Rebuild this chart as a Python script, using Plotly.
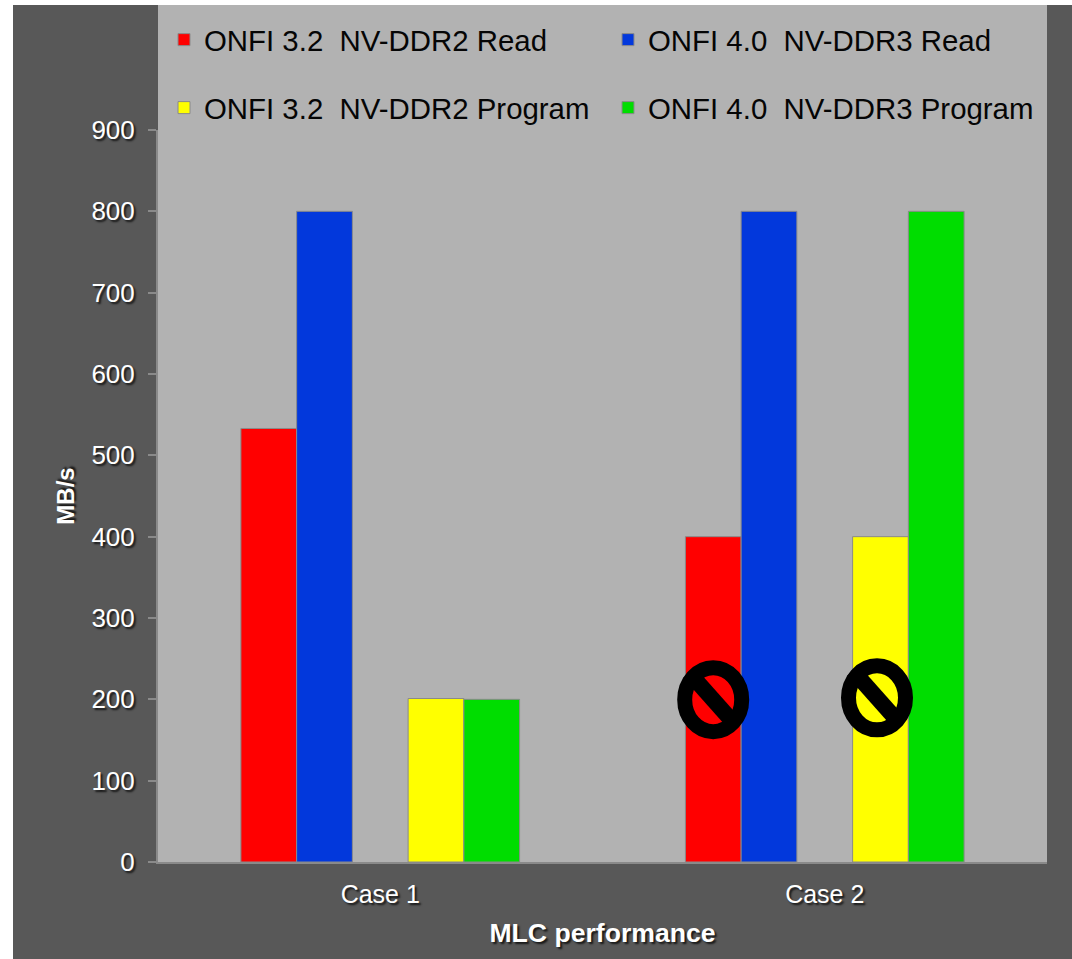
import plotly.graph_objects as go

categories = ["Case 1", "Case 2"]
read_32 = [533, 400]
read_40 = [800, 800]
prog_32 = [201, 400]
prog_40 = [200, 800]
y_ticks = [0, 100, 200, 300, 400, 500, 600, 700, 800, 900]

W, H = 1072, 959
L, R, T, B = 158, 25, 130, 97
PW, PH = W - L - R, H - T - B
px = lambda v: (v - L) / PW
py = lambda v: (H - B - v) / PH

FONT = "Liberation Sans, Arial, sans-serif"
SHADOW = "2px 2px 2px rgba(0,0,0,0.75)"
EDGE = dict(color="#8a8a8a", width=1)

fig = go.Figure()
fig.add_bar(name="ONFI 3.2\u00a0\u00a0NV-DDR2 Read", x=categories, y=read_32,
            marker=dict(color="#ff0000", line=EDGE), legend="legend")
fig.add_bar(name="ONFI 4.0\u00a0\u00a0NV-DDR3 Read", x=categories, y=read_40,
            marker=dict(color="#0238dc", line=EDGE), legend="legend2")
fig.add_bar(name="spacer", x=categories, y=[None, None], showlegend=False, hoverinfo="skip")
fig.add_bar(name="ONFI 3.2\u00a0\u00a0NV-DDR2 Program", x=categories, y=prog_32,
            marker=dict(color="#ffff00", line=EDGE), legend="legend3")
fig.add_bar(name="ONFI 4.0\u00a0\u00a0NV-DDR3 Program", x=categories, y=prog_40,
            marker=dict(color="#00dd00", line=EDGE), legend="legend4")

shapes = [
    dict(type="rect", xref="paper", yref="paper", x0=px(13), x1=px(W), y0=py(H), y1=py(5),
         fillcolor="#585858", line_width=0, layer="below"),
    dict(type="rect", xref="paper", yref="paper", x0=0, x1=1, y0=0, y1=py(5),
         fillcolor="#b2b2b2", line_width=0, layer="below"),
]
for cx, cy in [(713.2, 699.7), (877, 697.8)]:
    shapes.append(dict(type="circle", xref="paper", yref="paper",
                       x0=px(cx - 28.5), x1=px(cx + 28.5), y0=py(cy + 32), y1=py(cy - 32),
                       line=dict(color="black", width=15), fillcolor="rgba(0,0,0,0)"))
    shapes.append(dict(type="line", xref="paper", yref="paper",
                       x0=px(cx - 24), x1=px(cx + 24), y0=py(cy - 27), y1=py(cy + 27),
                       line=dict(color="black", width=16)))

legend_common = dict(bgcolor="rgba(0,0,0,0)", xanchor="left", yanchor="middle",
                     font=dict(family=FONT, size=29.4, color="#050505"))

fig.update_layout(
    width=W, height=H,
    margin=dict(l=L, r=R, t=T, b=B, pad=0, autoexpand=False),
    paper_bgcolor="white", plot_bgcolor="#b2b2b2",
    barmode="group", bargap=0.373, bargroupgap=0,
    font=dict(family=FONT),
    shapes=shapes,
    legend=dict(x=px(164), y=py(40), **legend_common),
    legend2=dict(x=px(608), y=py(40), **legend_common),
    legend3=dict(x=px(164), y=py(108), **legend_common),
    legend4=dict(x=px(608), y=py(108), **legend_common),
    xaxis=dict(showline=True, linecolor="#8a8a8a", linewidth=2, ticks="", showgrid=False,
               ticklabelstandoff=9,
               tickfont=dict(family=FONT, size=25, color="white", shadow=SHADOW),
               title=dict(text="<b>MLC performance</b>", standoff=16,
                          font=dict(family=FONT, size=26.6, color="white", shadow=SHADOW))),
    yaxis=dict(range=[0, 900], tickvals=y_ticks, showline=True, linecolor="#8a8a8a", linewidth=2,
               ticks="outside", ticklen=8, tickwidth=2, tickcolor="#8a8a8a", showgrid=False,
               zeroline=False, ticklabelstandoff=8,
               tickfont=dict(family=FONT, size=26, color="white", shadow=SHADOW),
               title=dict(text="<b>MB/s</b>", standoff=10,
                          font=dict(family=FONT, size=24, color="white", shadow=SHADOW))),
)

fig.write_html("out.html", post_script="document.body.style.margin='0';document.body.style.overflow='hidden';",
               config=dict(displayModeBar=False))
